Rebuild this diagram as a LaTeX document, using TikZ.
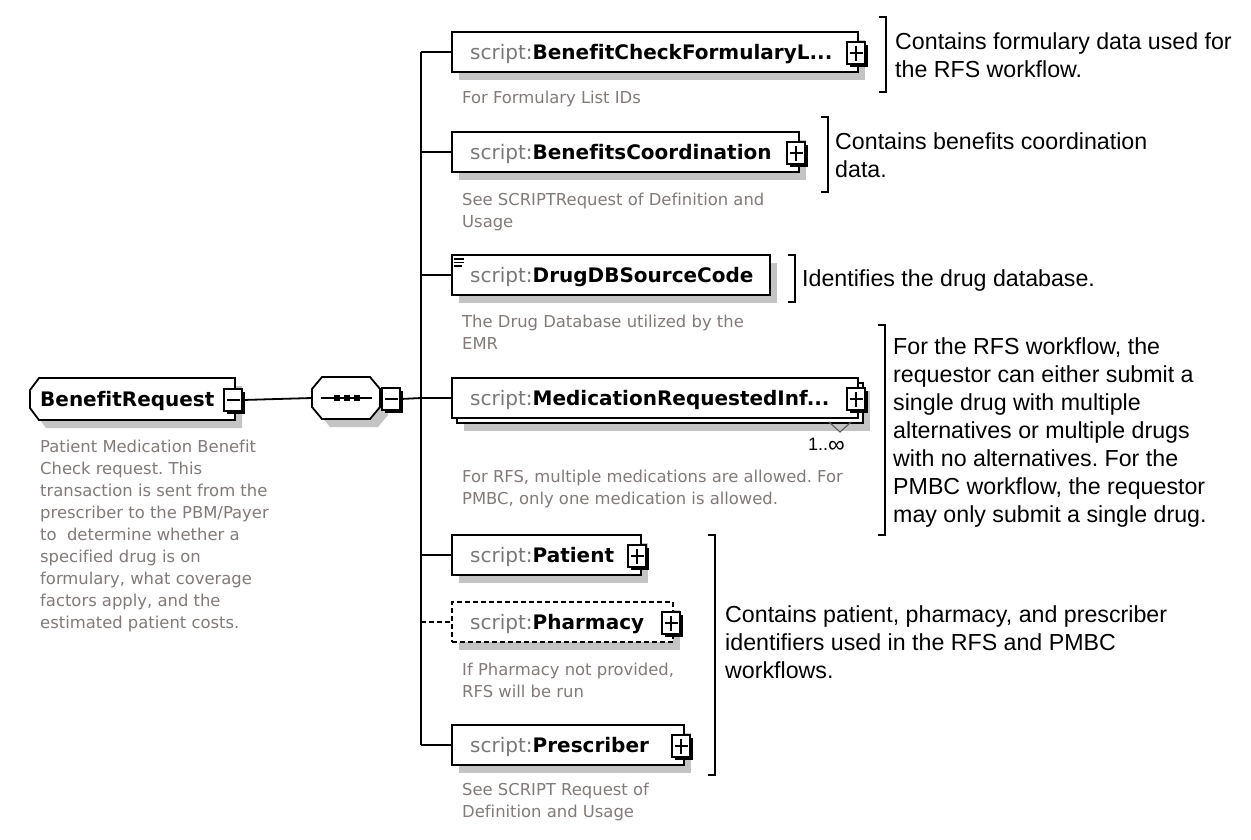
\documentclass[tikz,border=0pt]{standalone}
\usepackage{fontspec}
\setmainfont[Ligatures=NoCommon]{Liberation Sans}
\newfontfamily\dvs[Ligatures=NoCommon]{DejaVu Sans}
\usetikzlibrary{shadows}
\definecolor{scriptgray}{RGB}{120,120,120}
\definecolor{descgray}{RGB}{130,123,120}
\definecolor{shadowgray}{RGB}{196,196,196}
\definecolor{chevgray}{RGB}{90,90,90}
\frenchspacing
\begin{document}
\begin{tikzpicture}[x=1pt,y=-1pt,
 conn/.style={line width=1.8pt, black},
 ebox/.style={draw=black, line width=1.8pt, fill=white, inner sep=0pt, minimum height=40pt, anchor=west,
   drop shadow={shadow xshift=7pt, shadow yshift=-8pt, fill=shadowgray, opacity=1}},
 btn/.style={draw=black, line width=1.5pt, fill=white, inner sep=0pt, minimum width=18pt, minimum height=22pt,
   general shadow={fill=black, shadow xshift=3pt, shadow yshift=-3pt}},
 plusbtn/.style={btn, path picture={
   \draw[line width=1.6pt] ([xshift=-6.5pt]path picture bounding box.center) -- ([xshift=6.5pt]path picture bounding box.center);
   \draw[line width=1.6pt] ([yshift=-7.5pt]path picture bounding box.center) -- ([yshift=7.5pt]path picture bounding box.center);}},
 minusbtn/.style={btn, path picture={
   \draw[line width=1.6pt] ([xshift=-6.5pt]path picture bounding box.center) -- ([xshift=6.5pt]path picture bounding box.center);}},
 nametext/.style={anchor=base west, inner sep=0pt, font=\dvs\fontsize{20}{24}\selectfont},
 desc/.style={anchor=north west, inner sep=0pt, align=left, text=descgray, font=\dvs\fontsize{16.4}{22}\selectfont},
 note/.style={anchor=north west, inner sep=0pt, align=left, font=\fontsize{23.2}{28}\selectfont},
 brk/.style={line width=1.8pt, black}
]
\useasboundingbox (0,0) rectangle (1251,839);
\fill[white] (0,0) rectangle (1251,839);

% ---------- root element ----------
\fill[shadowgray] (46,386) -- (242,386) -- (242,428) -- (46,428) -- (37,416) -- (37,398) -- cycle;
\node[inner sep=0pt, minimum width=205pt, minimum height=42pt] (br) at (132.5,399) {};
\draw[line width=1.8pt, fill=white] (39,378) -- (235,378) -- (235,420) -- (39,420) -- (30,408) -- (30,390) -- cycle;
\node[nametext] (brt) at (40,406) {\textbf{BenefitRequest}};
\node[minusbtn] (brb) at (233,400) {};
\node[desc] (brd) at (40,436.6) {\strut Patient Medication Benefit\\Check request. This\\transaction is sent from the\\prescriber to the PBM/Payer\\to\ \ determine whether a\\specified drug is on\\formulary, what coverage\\factors apply, and the\\estimated patient costs.};

% ---------- sequence compositor ----------
\fill[shadowgray] (330,385) -- (378,385) -- (388,397) -- (388,415) -- (378,427) -- (330,427) -- (320,415) -- (320,397) -- cycle;
\node[inner sep=0pt, minimum width=68pt, minimum height=42pt] (seq) at (346,398) {};
\draw[line width=1.8pt, fill=white] (322,377) -- (370,377) -- (380,389) -- (380,407) -- (370,419) -- (322,419) -- (312,407) -- (312,389) -- cycle;
\draw[line width=1.8pt] (321,398) -- (372,398);
\foreach \dx in {337,347,357} \fill (\dx-3,395) rectangle (\dx+3,401);
\node[minusbtn] (seqb) at (391,399) {};

\coordinate (bus) at (421,398);
\draw[conn] (brb.east) -- (seq.west);
\draw[conn] (seqb.east) -- (bus);

% ---------- children ----------
\node[ebox, minimum width=406pt] (c1) at (451,52) {};
\node[nametext] (c1t) at (470,59) {{\color{scriptgray}script:}\textbf{BenefitCheckFormularyL...}};
\node[plusbtn] (c1b) at (856,53) {};
\node[desc] (c1d) at (462,88) {\strut For Formulary List IDs};

\node[ebox, minimum width=347pt] (c2) at (451,152) {};
\node[nametext] (c2t) at (470,159) {{\color{scriptgray}script:}\textbf{BenefitsCoordination}};
\node[plusbtn] (c2b) at (796,153) {};
\node[desc] (c2d) at (462,190) {\strut See SCRIPTRequest of Definition and\\Usage};

\node[ebox, minimum width=318pt] (c3) at (451,275) {};
\node[nametext] (c3t) at (470,282) {{\color{scriptgray}script:}\textbf{DrugDBSourceCode}};
\draw[line width=1.2pt] (454,259) -- (464,259) (454,262.5) -- (464,262.5) (454,266) -- (462,266);
\node[desc] (c3d) at (462,312) {\strut The Drug Database utilized by the\\EMR};

\node[ebox, minimum width=406pt] (c4b) at (456,403) {};
\node[draw=black, line width=1.8pt, fill=white, inner sep=0pt, minimum height=40pt, minimum width=406pt, anchor=west] (c4) at (451,398) {};
\node[nametext] (c4t) at (470,405) {{\color{scriptgray}script:}\textbf{MedicationRequestedInf...}};
\node[plusbtn] (c4p) at (856,399) {};
\draw[chevgray, line width=1.1pt] (829,422) -- (840,432) -- (851,422);
\node[anchor=base west, inner sep=0pt, font=\fontsize{18}{20}\selectfont] (c4m) at (808,450) {1..\raisebox{-2.5pt}{\scalebox{1.3}{∞}}};
\node[desc] (c4d) at (462,467) {\strut For RFS, multiple medications are allowed. For\\PMBC, only one medication is allowed.};

\node[ebox, minimum width=189pt] (c5) at (451,555) {};
\node[nametext] (c5t) at (470,562) {{\color{scriptgray}script:}\textbf{Patient}};
\node[plusbtn] (c5b) at (637,556) {};

\node[ebox, minimum width=221pt, dash pattern=on 5pt off 3pt] (c6) at (451,622) {};
\node[nametext] (c6t) at (470,629) {{\color{scriptgray}script:}\textbf{Pharmacy}};
\node[plusbtn] (c6b) at (671,623) {};
\node[desc] (c6d) at (462,660) {\strut If Pharmacy not provided,\\RFS will be run};

\node[ebox, minimum width=232pt] (c7) at (451,745) {};
\node[nametext] (c7t) at (470,752) {{\color{scriptgray}script:}\textbf{Prescriber}};
\node[plusbtn] (c7b) at (681,746) {};
\node[desc] (c7d) at (462,780) {\strut See SCRIPT Request of\\Definition and Usage};

% ---------- bus connectors ----------
\draw[conn] (bus |- c1.west) -- (bus |- c7.west);
\foreach \c in {c1,c2,c3,c4,c5,c7} \draw[conn] (bus |- \c.west) -- (\c.west);
\draw[conn, dash pattern=on 5pt off 3pt] (bus |- c6.west) -- (c6.west);

% ---------- annotations ----------
\draw[brk] (879,17) -- (886,17) -- (886,92) -- (879,92);
\node[note] (n1) at (895,29.4) {\strut Contains formulary data used for\\the RFS workflow.};
\draw[brk] (821,117) -- (828,117) -- (828,192) -- (821,192);
\node[note] (n2) at (835,129.4) {\strut Contains benefits coordination\\data.};
\draw[brk] (788,255) -- (795,255) -- (795,302) -- (788,302);
\node[note] (n3) at (802,266.4) {\strut Identifies the drug database.};
\draw[brk] (878,325) -- (885,325) -- (885,535) -- (878,535);
\node[note] (n4) at (893,334.4) {\strut For the RFS workflow, the\\requestor can either submit a\\single drug with multiple\\alternatives or multiple drugs\\with no alternatives. For the\\PMBC workflow, the requestor\\may only submit a single drug.};
\draw[brk] (708,535) -- (715,535) -- (715,775) -- (708,775);
\node[note] (n5) at (725,602.4) {\strut Contains patient, pharmacy, and prescriber\\identifiers used in the RFS and PMBC\\workflows.};
\end{tikzpicture}
\end{document}
